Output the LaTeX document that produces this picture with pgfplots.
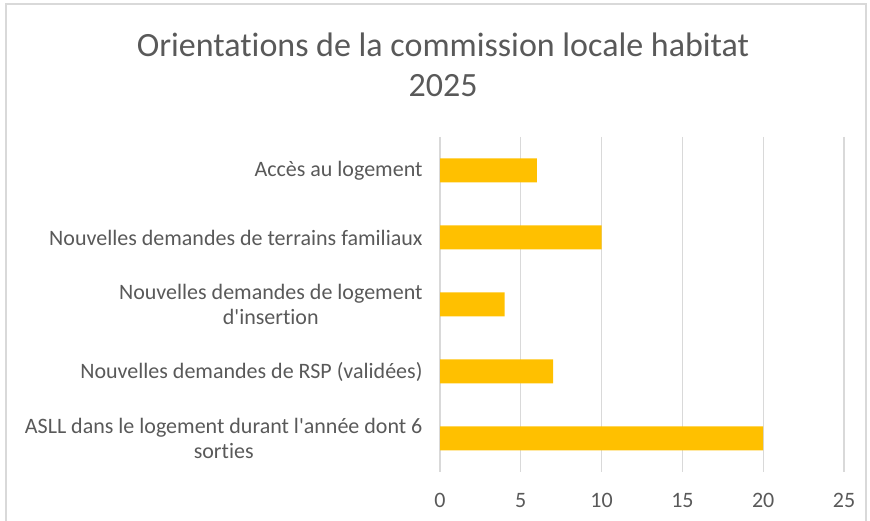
\documentclass[border=0pt]{standalone}
\usepackage{fontspec}
\setmainfont{Carlito}
\newfontfamily\calf{Carlito}[Ligatures=NoCommon]
\usepackage{pgfplots}
\pgfplotsset{compat=1.18}
\definecolor{barc}{HTML}{FFC000}
\definecolor{txt}{HTML}{595959}
\definecolor{gridc}{HTML}{D9D9D9}
\begin{document}
\begin{tikzpicture}[x=1pt,y=1pt]
\path[use as bounding box] (0,0) rectangle (870,521);
\draw[gridc, line width=1.2pt] (6,0) -- (6,517) -- (866,517) -- (866,0);
\node[txt, font=\calf\fontsize{34}{40}\selectfont, align=center] at (443,456) {Orientations de la commission locale habitat\\2025};
\begin{axis}[
  at={(440pt,49pt)}, anchor=south west, scale only axis,
  width=404pt, height=335pt,
  xbar, bar width=24pt,
  xmin=0, xmax=25, ymin=-0.5, ymax=4.5, y dir=reverse,
  xtick={0,5,10,15,20,25}, ytick={0,1,2,3,4},
  yticklabels={{Accès au logement},{Nouvelles demandes de terrains familiaux},{Nouvelles demandes de logement\\d'insertion},{Nouvelles demandes de RSP (validées)},{ASLL dans le logement durant l'année dont 6\\sorties}},
  xmajorgrids, grid style={gridc, line width=1.2pt},
  axis line style={draw=none}, major tick length=0pt,
  tick label style={txt, font=\calf\fontsize{22}{25}\selectfont},
  yticklabel style={align=center, xshift=-14pt},
  xticklabel style={yshift=-18pt},
  /pgf/number format/assume math mode=true,
]
\addplot[fill=barc, draw=none] coordinates {(6,0) (10,1) (4,2) (7,3) (20,4)};
\end{axis}
\end{tikzpicture}
\end{document}
